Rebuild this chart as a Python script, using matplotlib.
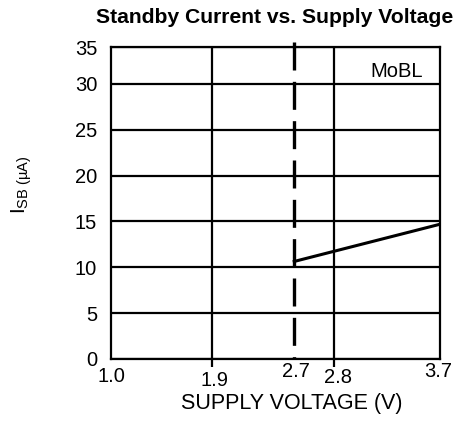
import numpy as np
import matplotlib
matplotlib.use("Agg")
import matplotlib.pyplot as plt
from matplotlib.transforms import offset_copy

plt.rcParams['font.family'] = ['Liberation Sans', 'DejaVu Sans']
plt.rcParams['mathtext.fontset'] = 'custom'
plt.rcParams['mathtext.rm'] = 'Liberation Sans'
plt.rcParams['mathtext.it'] = 'Liberation Sans:italic'

# ---- data ----
title = "Standby Current vs. Supply Voltage"
xlabel = "SUPPLY VOLTAGE (V)"
ylabel = r"I$_{\mathrm{SB\ (µA)}}$"
series_label = "MoBL"
x_ticks = [1.0, 1.9, 2.7, 2.8, 3.7]
x_tick_labels = ["1.0", "1.9", "2.7", "2.8", "3.7"]
y_ticks = [0, 5, 10, 15, 20, 25, 30, 35]
x_grid = [1.9, 2.8]
x_marker = 2.7
voltage = [2.685, 3.7]
current = [10.6, 14.7]

# ---- schematic (non-linear) axis scales of the original datasheet ----
xb_val = [1.0, 1.9, 2.7, 2.8, 3.7]
xb_pos = [0.0, 100.7, 183.3, 223.3, 329.0]
yb_val = [0.0, 30.0, 35.0]
yb_pos = [0.0, 30.0, 34.0]

def xf(v): return np.interp(v, xb_val, xb_pos)
def xi(p): return np.interp(p, xb_pos, xb_val)
def yf(v): return np.interp(v, yb_val, yb_pos)
def yi(p): return np.interp(p, yb_pos, yb_val)

W, H = 459, 421
fig = plt.figure(figsize=(W / 100, H / 100), dpi=100)
L, R, T, B = 111, 440, 47.3, 359
ax = fig.add_axes([L / W, 1 - B / H, (R - L) / W, (B - T) / H])
ax.set_xscale('function', functions=(xf, xi))
ax.set_yscale('function', functions=(yf, yi))
ax.set_xlim(1.0, 3.7)
ax.set_ylim(0, 35)

lw = 1.6
for s in ax.spines.values():
    s.set_linewidth(lw)
    s.set_color('black')

ax.set_yticks(y_ticks)
ax.set_yticklabels([str(v) for v in y_ticks])
ax.tick_params(axis='y', length=0, pad=10, labelsize=14.5)
ax.set_xticks([])
ax.yaxis.grid(True, color='black', linewidth=lw)
ax.set_axisbelow(False)

xt = ax.get_xaxis_transform()
for gx in x_grid:
    ax.plot([gx, gx], [-0.026, 1], transform=xt, color='black', lw=lw,
            clip_on=False, solid_capstyle='butt')

dl, = ax.plot([x_marker, x_marker], [1.017, 0], transform=xt, color='black',
              lw=2.4, clip_on=False, solid_capstyle='butt')
dl.set_dashes([8.4, 3.4])

ax.plot(voltage, current, color='black', lw=2.2, solid_capstyle='butt')

ax.text(0.869, 0.922, series_label, transform=ax.transAxes, ha='center',
        va='center', fontsize=14.5)

# staggered x tick labels (as in the original)
dx = [0.7, 2.3, 1.2, 3.7, -1.5]
dy = [-22.7, -27, -18, -24, -18]
for v, lab, ox, oy in zip(x_ticks, x_tick_labels, dx, dy):
    tr = offset_copy(xt, fig=fig, x=ox, y=oy, units='dots')
    ax.text(v, 0, lab, transform=tr, ha='center', va='baseline', fontsize=14.5)

fig.text(292 / W, (H - 409) / H, xlabel, ha='center', va='baseline', fontsize=15.5)
fig.text(22 / W, (H - 185) / H, ylabel, ha='center', va='center',
         rotation=90, fontsize=15)
fig.text(275 / W, (H - 23.3) / H, title, ha='center', va='baseline',
         fontsize=15.2, fontweight='bold')

fig.savefig("out.png", dpi=100)
